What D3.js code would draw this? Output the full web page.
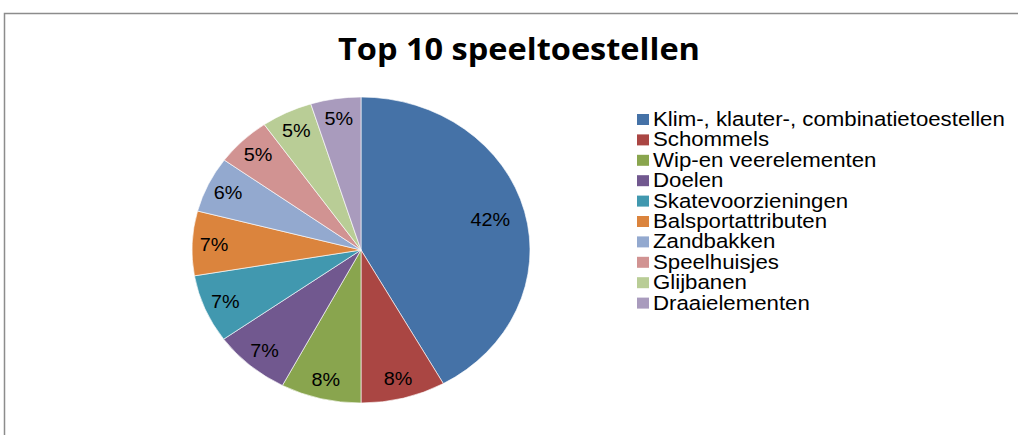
<!DOCTYPE html>
<html>
<head>
<meta charset="utf-8">
<script src="https://cdn.jsdelivr.net/npm/d3@7"></script>
<style>
  body { margin: 0; background: #fff; }
  svg { display: block; }
</style>
</head>
<body>
<svg width="1018" height="435"></svg>
<script>
const categories = [
  'Klim-, klauter-, combinatietoestellen',
  'Schommels',
  'Wip-en veerelementen',
  'Doelen',
  'Skatevoorzieningen',
  'Balsportattributen',
  'Zandbakken',
  'Speelhuisjes',
  'Glijbanen',
  'Draaielementen'
];
const shares = [41.9, 8.1, 7.7, 7.4, 7.2, 6.8, 5.9, 5.3, 4.9, 4.8];
const colors = ['#4572A7', '#AA4643', '#89A54E', '#71588F', '#4198AF',
                '#DB843D', '#93A9CF', '#D19392', '#B9CD96', '#A99BBD'];

const data = categories.map((c, i) => ({ name: c, value: shares[i], color: colors[i] }));

const svg = d3.select('svg');

// chart frame
svg.append('rect')
  .attr('x', 4.5).attr('y', 13.5)
  .attr('width', 1030).attr('height', 440)
  .attr('fill', 'none').attr('stroke', '#8c8c8c').attr('stroke-width', 1.5);

// title
svg.append('text')
  .attr('x', 519).attr('y', 60)
  .attr('text-anchor', 'middle')
  .attr('font-family', 'Open Sans, Noto Sans, sans-serif')
  .attr('font-weight', 'bold')
  .attr('font-size', 31)
  .attr('textLength', 362)
  .attr('lengthAdjust', 'spacingAndGlyphs')
  .text('Top 10 speeltoestellen');

// pie (slightly stretched horizontally like the original)
const cx = 361, cy = 250, rx = 169, ry = 153;
const pie = d3.pie().value(d => d.value).sort(null);
const arcs = pie(data);
const arc = d3.arc().innerRadius(0).outerRadius(ry);

svg.append('g')
  .attr('transform', `translate(${cx},${cy}) scale(${rx / ry},1)`)
  .selectAll('path')
  .data(arcs)
  .enter()
  .append('path')
  .attr('d', arc)
  .attr('fill', d => d.data.color)
  .attr('stroke', '#fff')
  .attr('stroke-width', 0.6);

// labels sit closer to the rim on the small slices
svg.append('g')
  .selectAll('text')
  .data(arcs)
  .enter()
  .append('text')
  .attr('transform', d => {
    const k = d.data.value > 20 ? 0.79 : 0.87;
    const [x, y] = d3.arc().innerRadius(ry * k).outerRadius(ry * k).centroid(d);
    return `translate(${cx + x * rx / ry},${cy + y}) scale(1.1,1)`;
  })
  .attr('text-anchor', 'middle')
  .attr('dy', '0.36em')
  .attr('font-family', 'Liberation Sans, Arial, sans-serif')
  .attr('font-size', 18)
  .attr('fill', '#000')
  .text(d => Math.round(d.data.value) + '%');

// legend
const legend = svg.append('g').attr('transform', 'translate(637,119)');
const item = legend.selectAll('g')
  .data(data)
  .enter()
  .append('g')
  .attr('transform', (d, i) => `translate(0,${i * 20.4})`);

item.append('rect')
  .attr('x', 0).attr('y', -5)
  .attr('width', 12).attr('height', 11)
  .attr('fill', d => d.color);

item.append('text')
  .attr('transform', 'translate(16,0) scale(1.14,1)')
  .attr('dy', '0.36em')
  .attr('font-family', 'Liberation Sans, Arial, sans-serif')
  .attr('font-size', 19.5)
  .attr('fill', '#000')
  .text(d => d.name);
</script>
</body>
</html>
